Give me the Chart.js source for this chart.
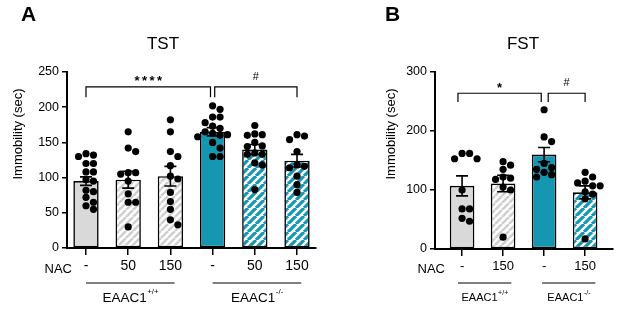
<!DOCTYPE html>
<html>
<head>
<meta charset="utf-8">
<script src="https://cdn.jsdelivr.net/npm/chart.js@4.4.0/dist/chart.umd.min.js"></script>
<style>
  html, body { margin: 0; padding: 0; background: #fff; }
  #wrap { position: relative; width: 619px; height: 310px; }
  canvas { position: absolute; top: 0; }
</style>
</head>
<body>
<div id="wrap">
  <canvas id="tstChart" width="320" height="310" style="left:0"></canvas>
  <canvas id="fstChart" width="299" height="310" style="left:320px"></canvas>
</div>
<script>
// --- data: TST (panel A) ---
const tstNac = ['-', '50', '150', '-', '50', '150'];
const tstMeans = [95, 97, 102, 165, 140, 124];
const tstSem = [6, 12, 14, 6, 7, 9];
const tstPoints = [
  [134, 132, 130, 120, 120, 108, 108, 97, 95, 82, 80, 72, 65, 60, 55],
  [165, 142, 137, 107, 107, 105, 95, 77, 65, 65, 30],
  [182, 165, 137, 130, 117, 102, 98, 79, 66, 55, 40, 33],
  [202, 197, 186, 186, 178, 173, 170, 165, 163, 161, 160, 158, 150, 142, 130, 130],
  [174, 162, 161, 160, 150, 145, 144, 135, 133, 133, 121, 118, 83],
  [161, 159, 154, 137, 118, 116, 114, 102, 90, 79]
];
const tstYTicks = [0, 50, 100, 150, 200, 250];

// --- data: FST (panel B) ---
const fstNac = ['-', '150', '-', '150'];
const fstMeans = [107, 111, 160, 96];
const fstSem = [17, 14, 12, 11];
const fstPoints = [
  [162, 153, 153, 162, 100, 68, 68, 52, 47],
  [148, 142, 135, 122, 120, 118, 105, 100, 20],
  [236, 190, 182, 145, 138, 135, 130, 126, 122],
  [130, 122, 115, 112, 107, 107, 97, 93, 85, 17]
];
const fstYTicks = [0, 100, 200, 300];

// comparisons: bar index range, bracket height (sec), label
const tstBrackets = [
  { from: 0, to: 2.95, top: 229, leg: 214, text: '****' },
  { from: 3.05, to: 5, top: 229, leg: 214, text: '#' }
];
const fstBrackets = [
  { from: -0.1, to: 1.93, top: 264, leg: 249, text: '*' },
  { from: 2.1, to: 3, top: 264, leg: 249, text: '#' }
];

// genotype groups under the axis
const tstGroups = [
  { from: 0, to: 2.1, name: 'EAAC1', sup: '+/+' },
  { from: 3, to: 5.1, name: 'EAAC1', sup: '-/-' }
];
const fstGroups = [
  { from: -0.1, to: 1.2, name: 'EAAC1', sup: '+/+' },
  { from: 1.95, to: 3.25, name: 'EAAC1', sup: '-/-' }
];

const FONT = '"Liberation Sans", Arial, sans-serif';
Chart.defaults.font.family = FONT;
Chart.defaults.color = '#000';

const GRAY = '#d9d9d9';
const TEAL = '#1597b1';

function hatch(color, bg, size, width) {
  const c = document.createElement('canvas');
  c.width = size; c.height = size;
  const g = c.getContext('2d');
  g.fillStyle = bg;
  g.fillRect(0, 0, size, size);
  g.strokeStyle = color;
  g.lineWidth = width;
  g.beginPath();
  for (let k = -1; k <= 1; k++) {
    g.moveTo(k * size, size);
    g.lineTo(k * size + size, 0);
  }
  g.stroke();
  return g.createPattern(c, 'repeat');
}

const grayHatch = hatch('#cfcfcf', '#fff', 7, 2.5);
const tealHatch = hatch(TEAL, '#fff', 8, 3.2);

// beeswarm-like spread of dots, done in pixels on the chart's own scales
function swarm(chart, points) {
  const xs = chart.scales.x, ys = chart.scales.y;
  const unit = xs.getPixelForValue(1) - xs.getPixelForValue(0);
  const step = 7.5, minDist = 7;
  const out = [];
  points.forEach((vals, i) => {
    const placed = [];
    vals.slice().sort((a, b) => b - a).forEach(v => {
      const py = ys.getPixelForValue(v);
      let k = 0, dx = 0;
      while (true) {
        dx = (k % 2 ? 1 : -1) * Math.ceil(k / 2) * step;
        if (!placed.some(p => Math.hypot(p.x - dx, p.y - py) < minDist)) break;
        k++;
      }
      placed.push({ x: dx, y: py });
      out.push({ x: i + dx / unit, y: v });
    });
  });
  return out;
}

function makePanel(id, p) {
  const decor = {
    id: 'decor',
    afterDatasetsDraw(chart) {
      const ctx = chart.ctx;
      const xs = chart.scales.x, ys = chart.scales.y;
      ctx.save();
      ctx.strokeStyle = '#000';
      // error bars (mean +/- SEM)
      ctx.lineWidth = 1.6;
      p.means.forEach((m, i) => {
        const x = xs.getPixelForValue(i);
        const yt = ys.getPixelForValue(m + p.sem[i]);
        const yb = ys.getPixelForValue(m - p.sem[i]);
        ctx.beginPath();
        ctx.moveTo(x, yt); ctx.lineTo(x, yb);
        ctx.moveTo(x - 6, yt); ctx.lineTo(x + 6, yt);
        ctx.moveTo(x - 6, yb); ctx.lineTo(x + 6, yb);
        ctx.stroke();
      });
      ctx.restore();
    },
    afterDraw(chart) {
      const ctx = chart.ctx;
      const xs = chart.scales.x, ys = chart.scales.y;
      ctx.save();
      ctx.fillStyle = '#000';
      ctx.strokeStyle = '#000';
      ctx.textBaseline = 'middle';
      // panel letter
      ctx.font = 'bold 21px ' + FONT;
      ctx.textAlign = 'left';
      ctx.fillText(p.letter, p.letterX, 15);
      // title
      ctx.font = '17px ' + FONT;
      ctx.textAlign = 'center';
      ctx.fillText(p.title, p.titleX, 44);
      // y axis title
      ctx.save();
      ctx.translate(p.yTitleX, 134);
      ctx.rotate(-Math.PI / 2);
      ctx.font = '13px ' + FONT;
      ctx.fillText('Immobility (sec)', 0, 0);
      ctx.restore();
      // brackets
      ctx.lineWidth = 1.2;
      p.brackets.forEach(b => {
        const x1 = xs.getPixelForValue(b.from), x2 = xs.getPixelForValue(b.to);
        const yt = ys.getPixelForValue(b.top), yl = ys.getPixelForValue(b.leg);
        ctx.beginPath();
        ctx.moveTo(x1, yl); ctx.lineTo(x1, yt); ctx.lineTo(x2, yt); ctx.lineTo(x2, yl);
        ctx.stroke();
        const cx = (x1 + x2) / 2;
        if (b.text === '#') {
          ctx.font = '11px ' + FONT;
          ctx.fillText('#', cx, yt - 10);
        } else {
          ctx.font = 'bold 13px ' + FONT;
          const n = b.text.length;
          for (let k = 0; k < n; k++) ctx.fillText('*', cx + (k - (n - 1) / 2) * 7.5, yt - 5);
        }
      });
      // NAC row label
      ctx.font = p.nacFont + 'px ' + FONT;
      ctx.textAlign = 'right';
      ctx.fillText('NAC', p.nacX, 269);
      // genotype groups
      ctx.lineWidth = 1.2;
      p.groups.forEach(g => {
        const x1 = xs.getPixelForValue(g.from), x2 = xs.getPixelForValue(g.to);
        ctx.beginPath();
        ctx.moveTo(x1, 283); ctx.lineTo(x2, 283);
        ctx.stroke();
        const mainFont = p.groupFont + 'px ' + FONT;
        const supFont = Math.round(p.groupFont * 0.62) + 'px ' + FONT;
        ctx.font = mainFont;
        const wm = ctx.measureText(g.name).width;
        ctx.font = supFont;
        const ws = ctx.measureText(g.sup).width;
        const start = (x1 + x2) / 2 - (wm + ws) / 2;
        ctx.textAlign = 'left';
        ctx.font = mainFont;
        ctx.fillText(g.name, start, 298);
        ctx.font = supFont;
        ctx.fillText(g.sup, start + wm + 0.5, 298 - p.groupFont * 0.45);
      });
      ctx.restore();
    }
  };

  const chart = new Chart(document.getElementById(id), {
    type: 'bar',
    data: {
      datasets: [
        {
          type: 'scatter',
          data: [],
          pointRadius: 3.6,
          pointBackgroundColor: '#000',
          pointBorderWidth: 0,
          order: 1
        },
        {
          data: p.means.map((m, i) => ({ x: i, y: m })),
          backgroundColor: p.fills,
          borderColor: '#000',
          borderWidth: 1.6,
          borderSkipped: false,
          barPercentage: 0.6,
          categoryPercentage: 1,
          order: 2
        }
      ]
    },
    options: {
      responsive: false,
      devicePixelRatio: 1,
      animation: false,
      layout: { padding: { left: p.padLeft, right: p.padRight, top: 72, bottom: 0 } },
      plugins: { legend: { display: false }, tooltip: { enabled: false }, title: { display: false } },
      scales: {
        x: {
          type: 'linear',
          min: p.xMin,
          max: p.xMax,
          offset: false,
          afterBuildTicks: axis => { axis.ticks = p.nac.map((_, i) => ({ value: i })); },
          afterFit: axis => { axis.height = p.xHeight; },
          ticks: {
            callback: (v, i) => p.nac[i],
            font: { size: p.tickFont },
            padding: 3,
            maxRotation: 0,
            autoSkip: false
          },
          grid: { offset: false, drawOnChartArea: false, color: '#000', lineWidth: 1.5, tickLength: 7 },
          border: { color: '#000', width: 2 }
        },
        y: {
          min: 0,
          max: p.yTicks[p.yTicks.length - 1],
          afterBuildTicks: axis => { axis.ticks = p.yTicks.map(v => ({ value: v })); },
          afterFit: axis => { axis.width = p.yWidth; },
          ticks: { font: { size: 12.5 }, padding: 3 },
          grid: { drawOnChartArea: false, color: '#000', lineWidth: 1.5, tickLength: 5 },
          border: { color: '#000', width: 2 }
        }
      }
    },
    plugins: [decor]
  });

  chart.data.datasets[0].data = swarm(chart, p.points);
  chart.update('none');
  return chart;
}

makePanel('tstChart', {
  nac: tstNac, means: tstMeans, sem: tstSem, points: tstPoints, yTicks: tstYTicks,
  fills: [GRAY, grayHatch, grayHatch, TEAL, tealHatch, tealHatch],
  brackets: tstBrackets, groups: tstGroups,
  letter: 'A', letterX: 21, title: 'TST', titleX: 163, yTitleX: 18,
  padLeft: 0, yWidth: 67, padRight: 3, xHeight: 62, xMin: -0.45, xMax: 5.45,
  nacX: 72, nacFont: 13, tickFont: 14, groupFont: 13.5
});

makePanel('fstChart', {
  nac: fstNac, means: fstMeans, sem: fstSem, points: fstPoints, yTicks: fstYTicks,
  fills: [GRAY, grayHatch, TEAL, tealHatch],
  brackets: fstBrackets, groups: fstGroups,
  letter: 'B', letterX: 65, title: 'FST', titleX: 203, yTitleX: 71,
  padLeft: 55, yWidth: 60, padRight: 6, xHeight: 61, xMin: -0.66, xMax: 3.68,
  nacX: 125, nacFont: 13, tickFont: 13, groupFont: 11
});
</script>
</body>
</html>
